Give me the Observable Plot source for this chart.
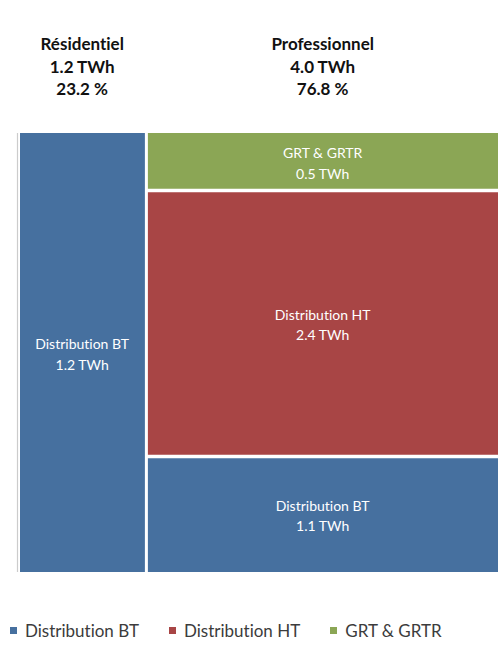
<!DOCTYPE html>
<html>
<head>
<meta charset="utf-8">
<script src="https://cdn.jsdelivr.net/npm/d3@7"></script>
<script src="https://cdn.jsdelivr.net/npm/@observablehq/plot@0.6"></script>
<style>
  body { margin: 0; background: #fff; font-family: Lato, "Open Sans", sans-serif; }
  svg text, #legend { font-variant-ligatures: none; font-feature-settings: "liga" 0, "clig" 0; }
  #legend { display: flex; align-items: center; gap: 30px; padding-left: 10px; height: 20px; margin-top: 20px; font-family: Lato, "Open Sans", sans-serif; font-size: 17px; color: #3c3c3c; }
  #legend .item { display: flex; align-items: center; }
  #legend .sw { width: 7px; height: 7px; margin-right: 8px; }
</style>
</head>
<body>
<div id="chart"></div>
<div id="legend"></div>
<script>
// Columns (customer types)
const columns = ["Résidentiel", "Professionnel"];
const columnTotalTWh = [1.2, 4.0];
const columnSharePct = [23.2, 76.8];
// visual column width share
const columnWidth = [26.9, 73.1];

// Segments per column, bottom to top
const segResidentiel = ["Distribution BT"];
const valResidentiel = [1.2];
const segProfessionnel = ["Distribution BT", "Distribution HT", "GRT & GRTR"];
const valProfessionnel = [1.06, 2.43, 0.52];

const segmentNames = ["Distribution BT", "Distribution HT", "GRT & GRTR"];
const segmentColors = ["#46709F", "#A84545", "#8BA655"];

// Build table
const segs = [segResidentiel, segProfessionnel];
const vals = [valResidentiel, valProfessionnel];
const rows = [];
const headers = [];
let xCum = 0;
columns.forEach((col, i) => {
  const x1 = xCum, x2 = xCum + columnWidth[i];
  xCum = x2;
  const total = d3.sum(vals[i]);
  let yCum = 0;
  segs[i].forEach((s, j) => {
    const y1 = yCum, y2 = yCum + vals[i][j] / total * 100;
    yCum = y2;
    rows.push({col, seg: s, value: vals[i][j], x1, x2, y1, y2, first: i === 0, top: j === segs[i].length - 1, bottom: j === 0});
  });
  headers.push({x: (x1 + x2) / 2, label: `${col}\n${columnTotalTWh[i].toFixed(1)} TWh\n${columnSharePct[i].toFixed(1)} %`});
});

const color = {domain: segmentNames, range: segmentColors};

const chart = Plot.plot({
  width: 498,
  height: 600,
  marginTop: 133,
  marginBottom: 28,
  marginLeft: 17,
  marginRight: 0,
  x: {domain: [0, 100], axis: null},
  y: {domain: [0, 100], axis: null},
  color,
  style: {fontFamily: "Lato, 'Open Sans', sans-serif"},
  marks: [
    Plot.ruleX([0], {stroke: "#cccccc", strokeWidth: 1.2}),
    Plot.rect(rows.filter(d => d.first), {x1: "x1", x2: "x2", y1: "y1", y2: "y2", fill: "seg", insetLeft: 3, insetRight: 1.5}),
    Plot.rect(rows.filter(d => !d.first), {x1: "x1", x2: "x2", y1: "y1", y2: "y2", fill: "seg", insetLeft: 1.5}),
    // white separators between stacked segments
    Plot.ruleY(rows.filter(d => !d.first && !d.bottom), {x1: "x1", x2: "x2", y: "y1", stroke: "white", strokeWidth: 3.5}),
    Plot.text(rows, {
      x: d => (d.x1 + d.x2) / 2,
      y: d => (d.y1 + d.y2) / 2,
      text: d => `${d.seg}\n${d.value.toFixed(1)} TWh`,
      fill: "white",
      fontSize: 14,
      lineHeight: 1.45
    }),
    Plot.text(headers, {
      x: "x",
      frameAnchor: "top",
      dy: -68,
      lineAnchor: "middle",
      text: "label",
      fontSize: 17,
      fontWeight: "bold",
      fill: "#111",
      lineHeight: 1.3
    })
  ]
});
document.getElementById("chart").appendChild(chart);

const legend = document.getElementById("legend");
segmentNames.forEach((name, i) => {
  const item = document.createElement("div");
  item.className = "item";
  const sw = document.createElement("span");
  sw.className = "sw";
  sw.style.background = segmentColors[i];
  item.appendChild(sw);
  item.appendChild(document.createTextNode(name));
  legend.appendChild(item);
});
</script>
</body>
</html>
